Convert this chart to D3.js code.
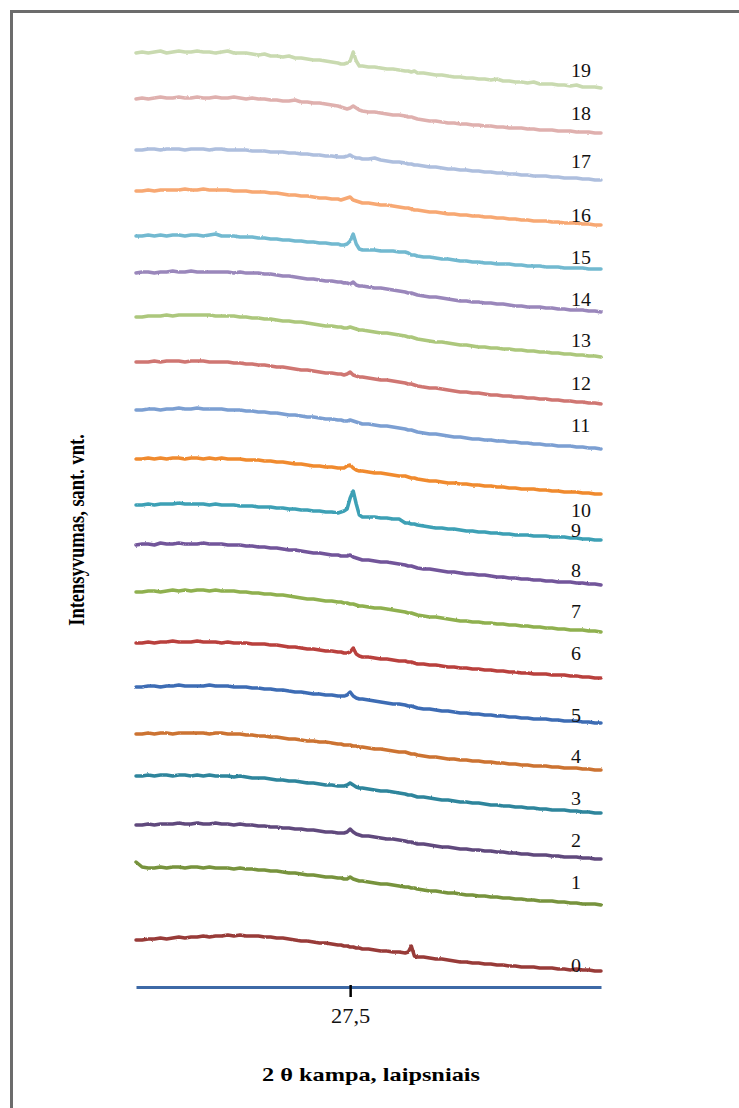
<!DOCTYPE html>
<html>
<head>
<meta charset="utf-8">
<script src="https://cdn.jsdelivr.net/npm/d3@7"></script>
<style>
  html, body { margin: 0; padding: 0; background: #fff; }
  svg { display: block; }
</style>
</head>
<body>
<script>
// 2θ angles (degrees) shared by all diffraction patterns
const angles = [10,10.5,11,11.5,12,12.5,13,13.5,14,14.5,15,15.5,16,16.5,17,17.5,18,18.5,19,19.5,
  20,20.5,21,21.5,22,22.5,23,23.5,24,24.5,25,25.5,26,26.5,26.75,27,27.25,27.5,27.75,28,28.25,28.5,
  29,29.5,30,30.5,31,31.5,32,32.25,32.5,32.75,33,33.5,34,34.5,35,35.5,36,36.5,37,37.5,38,38.5,
  39,39.5,40,40.5,41,41.5,42,42.5,43,43.5,44,44.5,45,45.5,46,46.5,47,47.5,48];

// Intensity of each sample (relative units), before stacking
const s0 = [31,31,32,32,33,32,33,34,33,34, 34,35,34,35,35,36,35,36,35,35, 35,34,34,33,33,32,31,30,30,29, 28,28,27,26,26,25,25,24,24,23, 23,22,22,21,20,20,19,19,18,19, 25,15,14,14,13,12,12,11,10,9, 9,8,8,7,7,6,6,5,5,4, 4,4,3,3,3,2,2,1,2,1, 1,0,0];
const s1 = [43,38,37,37,38,37,38,38,37,38, 38,37,38,37,37,37,36,37,36,36, 35,35,34,34,33,32,32,31,30,30, 29,28,28,27,27,26,26,28,26,25, 24,24,23,22,21,21,20,19,18,18, 17,17,16,15,14,14,13,12,12,11, 10,10,9,9,8,8,7,7,6,6, 5,5,4,4,4,3,3,2,2,1, 1,1,0];
const s2 = [34,34,35,34,35,35,35,36,35,35, 36,35,35,36,35,35,34,35,34,34, 33,33,32,32,31,31,30,30,29,29, 28,27,27,26,26,26,27,30,27,25, 24,23,23,22,21,20,20,19,18,17, 17,16,15,15,14,13,12,12,11,10, 10,9,9,8,8,7,7,6,6,5, 5,4,4,4,3,3,2,2,2,1, 1,0,0];
const s3 = [37,37,38,37,38,38,37,38,38,37, 38,37,38,37,37,37,36,37,36,35, 35,35,34,33,33,32,32,31,30,30, 29,28,28,27,27,27,28,30,28,26, 25,25,24,23,22,22,21,20,19,18, 18,17,16,16,15,14,13,13,12,11, 11,10,10,9,8,8,7,7,6,6, 5,5,4,4,3,3,3,2,2,1, 1,0,0];
const s4 = [36,36,37,36,37,37,36,37,37,37, 37,37,36,37,37,36,36,36,35,35, 34,34,33,33,32,31,31,30,29,29, 28,28,27,26,26,25,25,25,24,24, 23,23,22,21,21,20,19,18,18,17, 16,16,15,14,13,13,12,11,11,10, 10,9,9,8,8,7,7,6,6,5, 5,4,4,4,3,3,2,2,2,1, 1,0,0];
const s5 = [36,36,37,37,36,37,37,38,37,37, 37,37,38,37,37,37,36,36,36,35, 35,34,34,33,33,32,31,31,30,29, 29,28,28,27,27,27,28,31,27,25, 24,24,23,22,21,20,19,19,18,17, 17,16,15,14,14,13,12,12,11,10, 10,9,9,8,8,7,7,6,6,5, 5,4,4,4,3,3,2,2,2,1, 1,0,0];
const s6 = [35,35,36,35,36,36,37,36,36,36, 37,36,36,36,35,36,35,35,35,34, 34,34,33,33,32,31,31,30,29,29, 28,27,27,26,26,25,25,26,30,24, 22,21,21,20,19,19,18,17,17,16, 16,15,14,14,13,13,12,11,11,10, 10,9,9,8,8,7,7,6,6,5, 5,4,4,4,3,3,3,2,2,1, 1,0,0];
const s7 = [40,40,41,41,40,41,42,41,42,41, 42,42,41,42,41,41,41,40,40,39, 39,38,38,37,37,36,35,34,33,33, 32,31,31,30,30,29,29,28,28,27, 26,26,25,24,24,23,22,21,20,19, 19,18,17,16,15,15,14,13,12,11, 11,10,10,9,9,8,8,7,7,6, 6,5,5,4,4,3,3,2,2,2, 1,1,0];
const s8 = [40,41,41,40,42,41,41,42,41,41, 41,42,41,41,41,40,40,40,39,39, 38,38,37,37,36,35,35,34,33,32, 32,31,30,30,29,29,29,30,28,27, 26,25,25,24,23,23,22,21,20,19, 19,18,17,16,16,15,14,13,13,12, 11,11,10,10,9,8,8,7,7,6, 6,5,5,4,4,3,3,3,2,2, 1,1,0];
const s9 = [35,35,36,35,36,36,36,37,36,36, 36,36,35,36,35,35,35,34,34,34, 33,33,33,32,32,31,31,30,30,29, 29,28,28,27,28,29,31,42,49,36, 25,23,23,23,22,22,21,21,17,17, 16,16,15,14,13,12,12,11,11,10, 9,9,8,8,7,7,6,6,5,5, 5,4,4,4,3,3,3,2,2,1, 1,0,0];
const s10 = [35,35,36,35,36,35,36,36,35,36, 36,35,36,35,36,35,35,35,34,34, 34,33,33,32,32,31,30,30,29,28, 28,27,27,26,26,26,28,29,26,24, 23,23,22,21,21,20,19,18,18,17, 16,16,15,14,13,13,12,11,11,10, 10,9,9,8,8,7,7,6,6,5, 5,5,4,4,3,3,2,2,2,1, 1,0,0];
const s11 = [39,39,40,40,39,40,40,41,40,40, 41,40,40,40,40,39,39,39,38,38, 37,37,36,36,35,34,34,33,32,32, 31,30,30,29,29,28,28,29,28,27, 26,25,25,24,23,23,22,21,20,19, 19,18,17,16,15,15,14,13,12,12, 11,10,10,9,9,8,8,7,7,6, 6,5,5,4,4,3,3,3,2,2, 1,1,0];
const s12 = [42,42,42,43,42,43,43,43,42,43, 43,43,42,42,42,42,41,41,40,40, 39,39,38,37,37,36,35,34,34,33, 32,31,31,30,30,29,30,32,29,28, 27,27,26,25,24,24,23,22,21,20, 20,19,18,17,16,16,15,14,13,12, 12,11,11,10,9,9,8,8,7,7, 6,6,5,5,4,4,3,3,2,2, 1,1,0];
const s13 = [40,40,41,41,41,42,41,42,42,42, 42,42,42,41,41,41,41,40,40,39, 39,38,38,37,36,36,35,35,34,33, 32,31,31,30,30,29,29,30,29,28, 27,27,26,25,24,24,23,22,21,20, 20,19,18,17,16,15,15,14,13,12, 12,11,10,10,9,9,8,8,7,7, 6,6,5,5,4,4,3,3,2,2, 1,1,0];
const s14 = [39,40,40,39,40,40,41,40,40,41, 40,40,40,40,40,40,39,40,39,39, 39,38,38,37,36,36,35,34,33,33, 32,31,31,30,30,29,29,28,30,27, 26,26,25,24,24,23,22,21,20,19, 19,18,17,16,15,15,14,13,12,11, 11,10,10,9,9,8,8,7,6,6, 5,5,5,4,4,3,3,2,2,2, 1,1,0];
const s15 = [33,33,34,33,34,33,34,34,33,34, 34,33,34,35,33,33,33,32,32,32, 31,31,30,30,29,29,28,28,27,27, 26,26,25,25,24,24,25,28,35,25, 20,19,19,19,18,18,18,17,17,16, 14,14,13,12,12,11,10,10,9,8, 8,7,7,6,6,5,5,5,4,4, 3,3,3,2,2,2,1,1,1,1, 0,0,0];
const s16 = [34,34,35,34,35,35,35,35,36,35, 35,36,35,35,35,35,34,34,34,33, 33,33,32,32,31,30,30,29,29,28, 27,27,26,26,25,26,27,28,25,24, 23,22,22,21,20,20,19,18,17,17, 16,15,15,14,13,13,12,11,11,10, 10,9,9,8,8,7,7,6,6,5, 5,4,4,4,3,3,2,2,2,1, 1,0,0];
const s17 = [30,30,31,31,30,31,31,31,30,31, 31,31,30,31,31,30,30,30,30,29, 29,29,28,28,28,27,27,26,26,25, 25,24,24,23,23,23,24,25,23,22, 22,21,21,22,20,19,18,18,17,16, 16,15,15,14,13,13,12,11,11,10, 10,9,9,8,8,7,7,6,6,5, 5,4,4,4,3,3,2,2,2,1, 1,0,0];
const s18 = [34,35,34,35,36,35,35,36,35,35, 36,35,35,36,35,35,36,35,34,35, 34,34,33,33,32,32,33,31,31,30, 30,29,28,27,26,25,24,25,27,25, 23,22,21,21,20,19,18,18,17,16, 16,15,14,13,12,12,11,10,10,9, 9,8,8,7,7,6,6,5,5,5, 4,4,3,3,3,2,2,2,1,1, 1,0,0];
const s19 = [35,36,35,36,37,35,36,37,36,36, 37,36,36,35,36,37,35,35,35,34, 33,34,32,32,31,32,30,30,29,28, 28,27,26,25,24,24,25,27,36,27, 22,22,21,21,20,19,19,18,17,17, 16,17,15,15,14,13,13,12,11,11, 10,10,9,9,8,9,7,7,6,6, 5,6,4,4,4,3,3,2,3,1, 1,1,0];

const patterns = [s0,s1,s2,s3,s4,s5,s6,s7,s8,s9,s10,s11,s12,s13,s14,s15,s16,s17,s18,s19];
// vertical shift of each pattern in the stack
const offsets = [16,82,128,174,217,264,309,355,402,447,493,538,583,630,675,718,762,807,854,899];
const sampleLabels = ["0","1","2","3","4","5","6","7","8","9","10","11","12","13","14","15","16","17","18","19"];
// level (relative units) at which each sample number is written
const labelLevels = [15,98,140,182,224,265,327,369,410,450,470,555,597,640,681,723,765,819,867,910];
const colors = ["#983b39","#77933c","#614a7d","#2f859c","#cc7330","#3d6cb4","#b9403d","#8fb04f",
  "#72559a","#3ea0b5","#f08a2f","#7b9fd2","#cf7672","#acc77c","#9a87bb","#72b9d0",
  "#f7a873","#aebfde","#dfb0ae","#c9dab0"];
const xTicks = [27.5];

const W = 739, H = 1108;
const serif = "'Liberation Serif', 'Times New Roman', serif";

const svg = d3.select("body").append("svg")
  .attr("width", W).attr("height", H);

// slight roughness on the traces, like a scanned detector signal
const defs = svg.append("defs");
const rough = defs.append("filter").attr("id", "rough")
  .attr("x", "-2%").attr("y", "-40%").attr("width", "104%").attr("height", "180%");
rough.append("feTurbulence")
  .attr("type", "fractalNoise").attr("baseFrequency", "0.45 0.3")
  .attr("numOctaves", 1).attr("seed", 7).attr("result", "n");
rough.append("feDisplacementMap")
  .attr("in", "SourceGraphic").attr("in2", "n").attr("scale", 2.2)
  .attr("xChannelSelector", "R").attr("yChannelSelector", "G");

// outer frame
svg.append("rect")
  .attr("x", 11.5).attr("y", 11.5)
  .attr("width", W + 20).attr("height", H + 20)
  .attr("fill", "none").attr("stroke", "#6c6c6c").attr("stroke-width", 3);

const x = d3.scaleLinear().domain([10, 48]).range([136, 601]);
const y = d3.scaleLinear().domain([0, 950]).range([987, 37]);

const line = d3.line()
  .x(d => x(d[0]))
  .y(d => y(d[1]));

patterns.forEach((vals, k) => {
  const pts = vals.map((v, i) => [angles[i], v + offsets[k]]);
  svg.append("path")
    .datum(pts)
    .attr("d", line)
    .attr("fill", "none")
    .attr("stroke", colors[k])
    .attr("stroke-width", 3.5)
    .attr("stroke-linejoin", "round")
    .attr("stroke-linecap", "round")
    .attr("filter", "url(#rough)");
});

// sample numbers
svg.append("g").selectAll("text")
  .data(sampleLabels)
  .join("text")
  .attr("transform", (d, i) => `translate(571,${y(labelLevels[i])}) scale(1.08,1)`)
  .attr("font-family", serif)
  .attr("font-size", 18.5)
  .attr("fill", "#111")
  .text(d => d);

// x axis
const axis = d3.axisBottom(x)
  .tickValues(xTicks)
  .tickFormat(d => String(d).replace(".", ","))
  .tickSizeOuter(0)
  .tickSizeInner(10);

const gx = svg.append("g")
  .attr("transform", `translate(0,${y(0)})`)
  .call(axis);
gx.select(".domain").attr("stroke", "#3d69a6").attr("stroke-width", 3);
gx.selectAll(".tick line")
  .attr("stroke", "#000").attr("stroke-width", 2.5).attr("y1", -2);
gx.selectAll(".tick text")
  .attr("y", 0).attr("dy", 0)
  .attr("transform", "translate(0,36) scale(1.12,1)")
  .attr("font-family", serif).attr("font-size", 20).attr("fill", "#111");

// axis titles
svg.append("text")
  .attr("transform", "translate(371,1081) scale(1.28,1)")
  .attr("text-anchor", "middle")
  .attr("font-family", serif).attr("font-size", 19).attr("font-weight", "bold")
  .text("2 θ kampa, laipsniais");

svg.append("text")
  .attr("transform", "translate(84,530) scale(1.2,1) rotate(-90)")
  .attr("text-anchor", "middle")
  .attr("font-family", serif).attr("font-size", 18.5).attr("font-weight", "bold")
  .text("Intensyvumas, sant. vnt.");
</script>
</body>
</html>
